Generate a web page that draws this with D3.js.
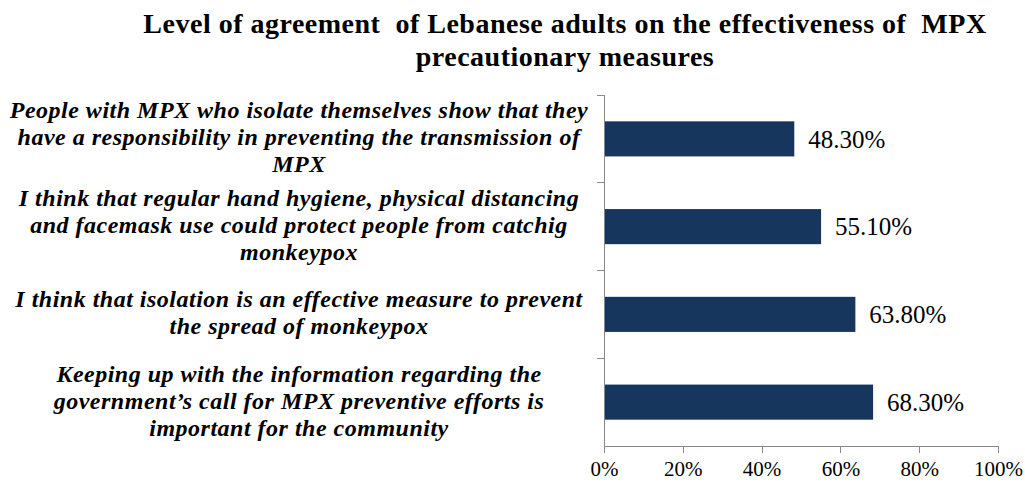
<!DOCTYPE html>
<html>
<head>
<meta charset="utf-8">
<script src="https://cdn.jsdelivr.net/npm/d3@7"></script>
<style>
  body { margin: 0; background: #fff; }
  svg { display: block; }
  .title { font-weight: bold; font-size: 28px; letter-spacing: 0.5px; }
  .cat { font-weight: bold; font-style: italic; font-size: 24px; letter-spacing: 0.5px; }
  .val { font-size: 25px; }
  .axis text { font-size: 21px; fill: #000; }
  .axis path, .axis line { stroke: #888; shape-rendering: crispEdges; }
</style>
</head>
<body>
<div id="chart"></div>
<script>
// data, top to bottom
const categories = [
  ["People with MPX who isolate themselves show that they", "have a responsibility in preventing the transmission of", "MPX"],
  ["I think that regular hand hygiene, physical distancing", "and facemask use could protect people from catchig", "monkeypox"],
  ["I think that isolation is an effective measure to prevent", "the spread of monkeypox"],
  ["Keeping up with the information regarding the", "government\u2019s call for MPX preventive efforts is", "important for the community"]
];
const values = [48.3, 55.1, 63.8, 68.3];
const xTicks = [0, 20, 40, 60, 80, 100];
const titleLines = ["Level of agreement  of Lebanese adults on the effectiveness of  MPX", "precautionary measures"];

const width = 1025, height = 485;
const margin = {top: 95, right: 27, bottom: 39, left: 604};
const fontStack = "'Liberation Serif', 'Times New Roman', serif";

const svg = d3.select('#chart').append('svg')
  .attr('width', width)
  .attr('height', height)
  .style('font-family', fontStack);

const x = d3.scaleLinear().domain([0, 100]).range([margin.left, width - margin.right]);
const y = d3.scaleBand().domain(d3.range(categories.length)).range([margin.top, height - margin.bottom]).paddingInner(0.6).paddingOuter(0.3);
const yBand = d3.scaleBand().domain(d3.range(categories.length)).range([margin.top, height - margin.bottom]);

// title
svg.append('g').selectAll('text')
  .data(titleLines)
  .enter().append('text')
  .attr('class', 'title')
  .attr('x', 565)
  .attr('y', (d, i) => 33 + i * 33)
  .attr('text-anchor', 'middle')
  .style('white-space', 'pre')
  .text(d => d);

// bars
svg.append('g').selectAll('rect')
  .data(values)
  .enter().append('rect')
  .attr('x', x(0))
  .attr('y', (d, i) => y(i))
  .attr('width', d => x(d) - x(0))
  .attr('height', y.bandwidth())
  .attr('fill', '#17365d');

// value labels
svg.append('g').selectAll('text')
  .data(values)
  .enter().append('text')
  .attr('class', 'val')
  .attr('x', d => x(d) + 14)
  .attr('y', (d, i) => y(i) + y.bandwidth() / 2)
  .attr('dy', '0.35em')
  .text(d => d.toFixed(2) + '%');

// y axis line with band ticks
const yAxis = svg.append('g').attr('class', 'axis');
yAxis.append('line')
  .attr('x1', x(0)).attr('x2', x(0))
  .attr('y1', yBand.range()[0]).attr('y2', yBand.range()[1]);
yAxis.selectAll('.tick')
  .data(d3.range(categories.length))
  .enter().append('line')
  .attr('class', 'tick')
  .attr('x1', x(0) - 7).attr('x2', x(0))
  .attr('y1', d => yBand(d)).attr('y2', d => yBand(d));

// category labels, lines centred on their band
const labels = svg.append('g').selectAll('text')
  .data(categories)
  .enter().append('text')
  .attr('class', 'cat')
  .attr('text-anchor', 'middle');
labels.each(function(lines, i) {
  const lh = 27;
  const cy = yBand(i) + yBand.bandwidth() / 2 - 2;
  const y0 = cy - (lines.length - 1) * lh / 2;
  d3.select(this).selectAll('tspan')
    .data(lines)
    .enter().append('tspan')
    .attr('x', 299)
    .attr('y', (d, j) => y0 + j * lh)
    .attr('dy', '0.35em')
    .text(d => d);
});

// x axis
const xAxis = d3.axisBottom(x)
  .tickValues(xTicks)
  .tickSize(7)
  .tickFormat(d => d + '%');
const gx = svg.append('g')
  .attr('class', 'axis')
  .attr('transform', 'translate(0,' + (height - margin.bottom) + ')')
  .call(xAxis);
gx.select('.domain').attr('d', 'M' + x(0) + ',7V0H' + x(100) + 'V7');
gx.attr('font-family', null).attr('font-size', null);
gx.selectAll('text').attr('dy', '0.95em');

// once the serif faces are in, nudge a relayout
if (document.fonts) {
  Promise.all([
    document.fonts.load("24px 'Liberation Serif'"),
    document.fonts.load("bold 28px 'Liberation Serif'"),
    document.fonts.load("italic bold 24px 'Liberation Serif'")
  ]).then(() => {
    svg.style('font-family', null);
    svg.style('font-family', fontStack);
  }).catch(() => {});
}
</script>
</body>
</html>
